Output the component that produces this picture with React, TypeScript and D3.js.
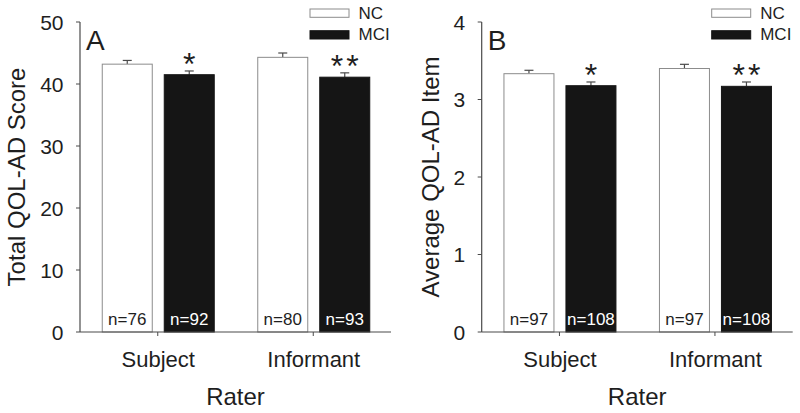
import React from "react";
import * as d3 from "d3";

const raters = ["Subject", "Informant"];
const groups = ["NC", "MCI"];

// Panel A: Total QOL-AD Score
const totalMeans = { NC: [43.2, 44.3], MCI: [41.5, 41.1] };
const totalErr = { NC: [0.6, 0.7], MCI: [0.6, 0.7] };
const totalN = { NC: ["n=76", "n=80"], MCI: ["n=92", "n=93"] };
const totalTicks = [0, 10, 20, 30, 40, 50];
const totalSig = ["*", "**"];

// Panel B: Average QOL-AD Item
const itemMeans = { NC: [3.333, 3.4], MCI: [3.178, 3.17] };
const itemErr = { NC: [0.044, 0.054], MCI: [0.048, 0.056] };
const itemN = { NC: ["n=97", "n=97"], MCI: ["n=108", "n=108"] };
const itemTicks = [0, 1, 2, 3, 4];
const itemSig = ["*", "**"];

const FONT = "'Liberation Sans', Arial, sans-serif";
const TXT = "#1e1e1e";
const AX = "#4a4a4a";

type PanelProps = {
  x0: number;
  letter: string;
  yTitle: string;
  yTitleX: number;
  yMax: number;
  ticks: number[];
  means: Record<string, number[]>;
  errs: Record<string, number[]>;
  ns: Record<string, string[]>;
  sig: string[];
};

function Panel(p: PanelProps) {
  const W = 311;
  const yTop = 22;
  const yBot = 332;
  const y = d3.scaleLinear().domain([0, p.yMax]).range([yBot, yTop]);
  const xb = d3.scaleBand<string>().domain(raters).range([p.x0, p.x0 + W]);
  const inner = d3
    .scaleBand<string>()
    .domain(groups)
    .range([-55.5, 56.5])
    .paddingInner(0.1935);
  const bw = inner.bandwidth();
  const cap = 9;

  return (
    <g>
      {/* bars */}
      {raters.map((r, i) => {
        const c = (xb(r) as number) + xb.bandwidth() / 2;
        return (
          <g key={r}>
            {groups.map((g) => {
              const bx = c + (inner(g) as number);
              const v = p.means[g][i];
              const e = p.errs[g][i];
              const isNC = g === "NC";
              const cx = bx + bw / 2;
              return (
                <g key={g}>
                  <line x1={cx} x2={cx} y1={y(v)} y2={y(v + e)} stroke={AX} strokeWidth={1.2} />
                  <line x1={cx - cap / 2} x2={cx + cap / 2} y1={y(v + e)} y2={y(v + e)} stroke={AX} strokeWidth={1.2} />
                  <rect
                    x={bx}
                    y={y(v)}
                    width={bw}
                    height={yBot - y(v)}
                    fill={isNC ? "#ffffff" : "#151515"}
                    stroke={isNC ? "#8c8c8c" : "#151515"}
                    strokeWidth={1}
                  />
                  <text
                    x={cx}
                    y={325}
                    textAnchor="middle"
                    fontFamily={FONT}
                    fontSize={17}
                    fill={isNC ? TXT : "#ffffff"}
                  >
                    {p.ns[g][i]}
                  </text>
                  {!isNC && (
                    <text
                      x={cx + (p.sig[i].length > 1 ? 1.5 : 0)}
                      y={y(v + e) + 4}
                      textAnchor="middle"
                      fontFamily={FONT}
                      fontSize={32}
                      letterSpacing={p.sig[i].length > 1 ? 3 : 0}
                      fill={TXT}
                    >
                      {p.sig[i]}
                    </text>
                  )}
                </g>
              );
            })}
            <line x1={c} x2={c} y1={yBot} y2={yBot + 4} stroke={AX} strokeWidth={1} />
            <text x={c + 0.5} y={366.5} textAnchor="middle" fontFamily={FONT} fontSize={22} fill={TXT}>
              {r}
            </text>
          </g>
        );
      })}

      {/* axes */}
      <line x1={p.x0} x2={p.x0 + W} y1={yBot} y2={yBot} stroke={AX} strokeWidth={1.2} />
      <line x1={p.x0} x2={p.x0} y1={yTop} y2={yBot} stroke={AX} strokeWidth={1.2} />
      {p.ticks.map((t) => (
        <g key={t}>
          <line x1={p.x0 - 4} x2={p.x0} y1={y(t)} y2={y(t)} stroke={AX} strokeWidth={1} />
          <text
            x={p.x0 - 16.5}
            y={y(t)}
            dy="0.36em"
            textAnchor="end"
            fontFamily={FONT}
            fontSize={21}
            fill={TXT}
          >
            {t}
          </text>
        </g>
      ))}

      {/* titles */}
      <text
        transform={`translate(${p.yTitleX},177) rotate(-90)`}
        textAnchor="middle"
        fontFamily={FONT}
        fontSize={24}
        fill={TXT}
      >
        {p.yTitle}
      </text>
      <text x={p.x0 + W / 2} y={405} textAnchor="middle" fontFamily={FONT} fontSize={24} fill={TXT}>
        Rater
      </text>
      <text x={p.x0 + 6} y={50} fontFamily={FONT} fontSize={28} fill={TXT}>
        {p.letter}
      </text>

      {/* legend */}
      {groups.map((g, k) => (
        <g key={g}>
          <rect
            x={p.x0 + 230}
            y={9 + k * 21.7}
            width={39}
            height={8.3}
            fill={g === "NC" ? "#ffffff" : "#151515"}
            stroke={g === "NC" ? "#8c8c8c" : "#151515"}
            strokeWidth={1}
          />
          <text x={p.x0 + 278.5} y={18.5 + k * 21.7} fontFamily={FONT} fontSize={17} fill={TXT}>
            {g}
          </text>
        </g>
      ))}
    </g>
  );
}

export default function App() {
  return (
    <svg
      width={800}
      height={413}
      style={{ position: "absolute", left: 0, top: 0, background: "#ffffff" }}
    >
      <rect width={800} height={413} fill="#ffffff" />
      <Panel
        x0={80}
        letter="A"
        yTitle="Total QOL-AD Score"
        yTitleX={25}
        yMax={50}
        ticks={totalTicks}
        means={totalMeans}
        errs={totalErr}
        ns={totalN}
        sig={totalSig}
      />
      <Panel
        x0={481.7}
        letter="B"
        yTitle="Average QOL-AD Item"
        yTitleX={439}
        yMax={4}
        ticks={itemTicks}
        means={itemMeans}
        errs={itemErr}
        ns={itemN}
        sig={itemSig}
      />
    </svg>
  );
}
